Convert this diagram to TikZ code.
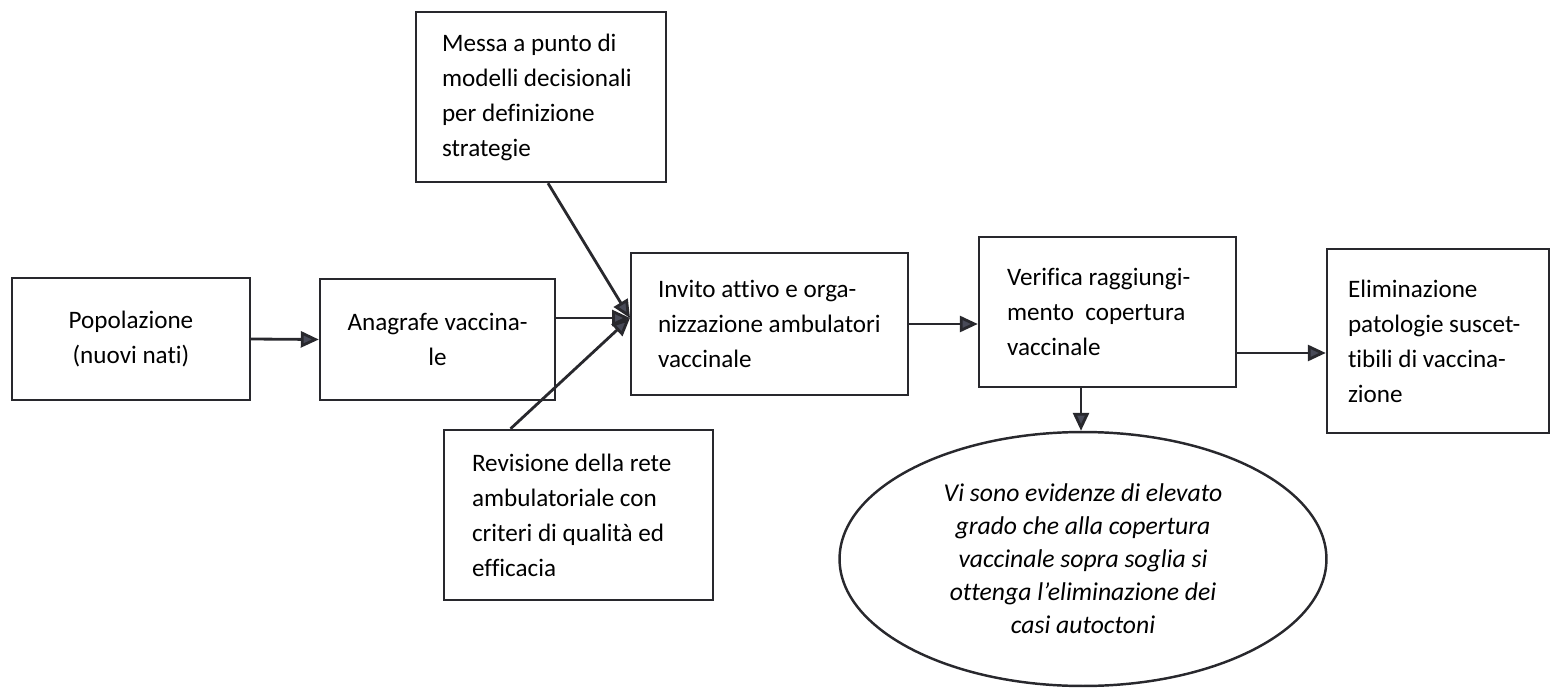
\documentclass[tikz,border=0pt]{standalone}
\usepackage{fontspec}
\setmainfont{Carlito}[Ligatures=NoCommon]
\usetikzlibrary{arrows.meta,shapes.geometric}
\definecolor{ink}{RGB}{40,40,45}
\definecolor{tipc}{RGB}{72,74,88}
\newcommand\myboxfont{\fontsize{14.3}{19.9}\selectfont}
\newcommand\myellfont{\itshape\fontsize{14.6}{18.8}\selectfont}
\begin{document}
\begin{tikzpicture}[x=0.02cm,y=-0.02cm,
  box/.style={draw=ink,line width=1.4pt,rectangle,inner sep=0pt,
    font=\myboxfont,text=black},
  arr/.style={draw=ink,line width=1.6pt,
    -{Triangle[length=0.36cm,width=0.32cm,fill=tipc]}}]
\useasboundingbox (0,0) rectangle (1551,689);

\node[box,minimum width=4.76cm,minimum height=2.44cm,align=flush center] (pop) at (131,339) {Popolazione\\(nuovi nati)};
\node[box,minimum width=4.70cm,minimum height=2.42cm,align=flush center] (ana) at (437.5,339.5) {Anagrafe vaccina-\\le};
\node[box,minimum width=5.0cm,minimum height=3.4cm,text width=3.96cm,align=flush left] (mes) at (541,97) {\mbox{Messa a punto di}\\\mbox{modelli decisionali}\\\mbox{per definizione}\\strategie};
\node[box,minimum width=5.54cm,minimum height=2.84cm,text width=4.46cm,align=flush left] (inv) at (769.5,324) {\mbox{Invito attivo e orga-}\\\mbox{nizzazione ambulatori}\\vaccinale};
\node[box,minimum width=5.14cm,minimum height=3.0cm,text width=4.02cm,align=flush left] (ver) at (1107.5,312) {\mbox{Verifica raggiungi-}\\\mbox{mento\ \ copertura}\\vaccinale};
\node[box,minimum width=4.44cm,minimum height=3.68cm,text width=3.6cm,align=flush left] (eli) at (1438,341) {Eliminazione\\\mbox{patologie suscet-}\\\mbox{tibili di vaccina-}\\zione};
\node[box,minimum width=5.38cm,minimum height=3.4cm,text width=4.26cm,align=flush left] (rev) at (578.5,515) {\mbox{Revisione della rete}\\\mbox{ambulatoriale con}\\\mbox{criteri di qualità ed}\\efficacia};
\node[draw=ink,line width=1.4pt,ellipse,minimum width=9.74cm,minimum height=5.08cm,inner sep=0pt,align=flush center,text=black,
  font=\myellfont] (ell) at (1083,559) {Vi sono evidenze di elevato\\grado che alla copertura\\vaccinale sopra soglia si\\ottenga l’eliminazione dei\\casi autoctoni};

\coordinate (tip) at (630,318);
\draw[arr] (pop.east) -- (ana.west);
\draw[arr] (ana.east |- tip) -- (tip);
\draw[arr] ([xshift=0.14cm]mes.south) -- (tip);
\draw[arr] ([xshift=-1.36cm]rev.north) -- (tip);
\draw[arr] (inv.east) -- (inv.east -| ver.west);
\draw[arr] ([yshift=-0.24cm]eli.west -| ver.east) -- ([yshift=-0.24cm]eli.west);
\coordinate (vs) at ([xshift=-0.53cm]ver.south);
\draw[arr] (vs) -- (vs |- ell.north);
\end{tikzpicture}
\end{document}
